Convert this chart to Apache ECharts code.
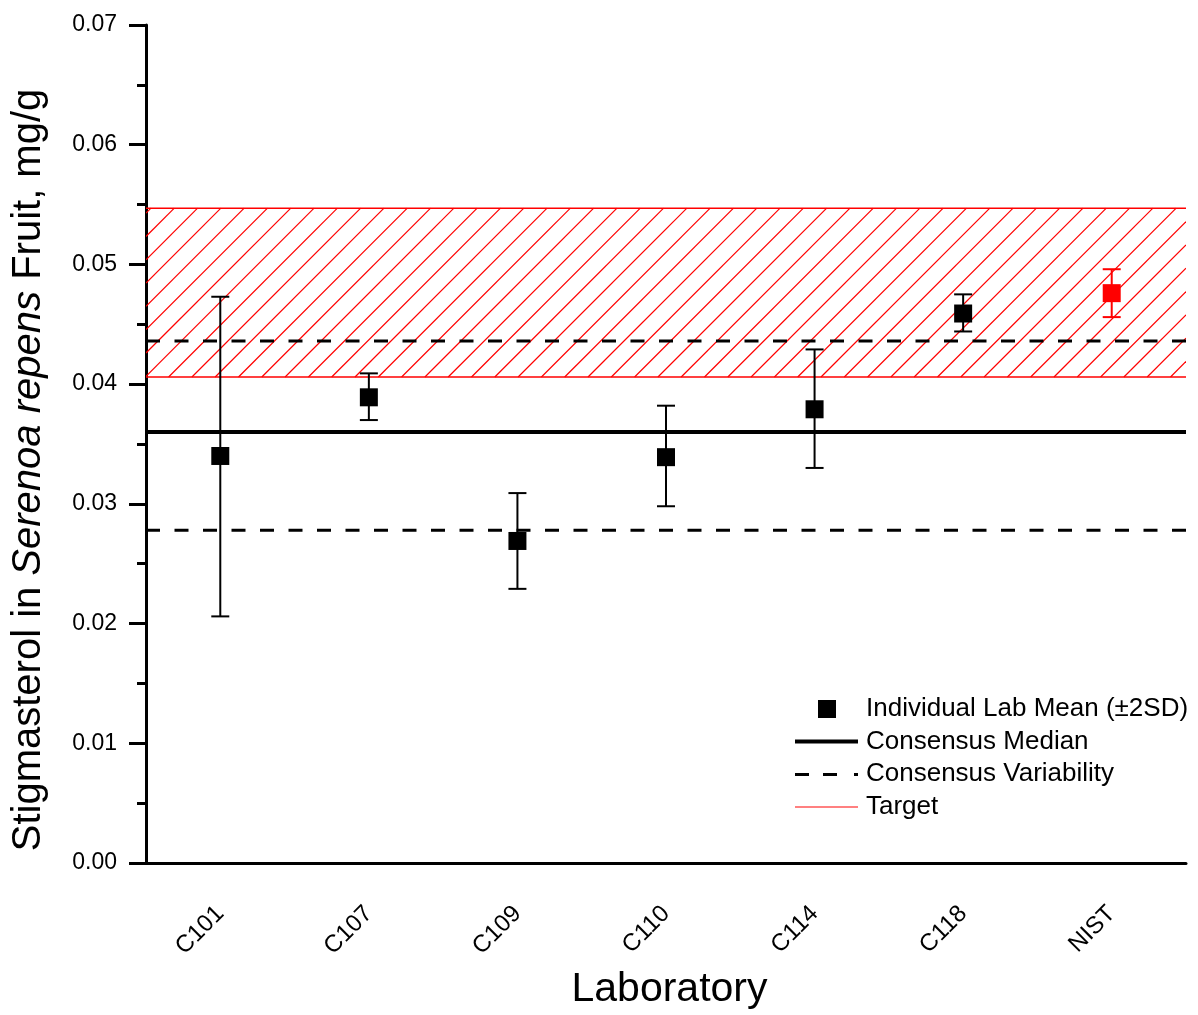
<!DOCTYPE html>
<html><head><meta charset="utf-8">
<script src="https://cdn.jsdelivr.net/npm/echarts@6/dist/echarts.min.js"></script>
<style>html,body{margin:0;padding:0;background:#fff}#c{width:1198px;height:1015px}</style>
</head><body><div id="c"></div>
<script>
// ---- data ----
const labs = ['C101', 'C107', 'C109', 'C110', 'C114', 'C118', 'NIST'];
const labMeans = [0.0340, 0.0389, 0.0269, 0.0339, 0.0379, 0.0459, 0.0476];
const upperBars = [0.0473, 0.0409, 0.0309, 0.0382, 0.0429, 0.0475, 0.0496];
const lowerBars = [0.0206, 0.0370, 0.0229, 0.0298, 0.0330, 0.0444, 0.0456];
const consensusMedian = 0.0360;
const consensusVariability = [0.0278, 0.0436];
const targetRange = [0.0406, 0.0547];
const yMin = 0, yMax = 0.07, yStep = 0.01;
const referenceLab = 'NIST';

const FONT = '"Liberation Sans", Arial, sans-serif';
const names = {
  lab: 'Individual Lab Mean (±2SD)',
  median: 'Consensus Median',
  variab: 'Consensus Variability',
  target: 'Target'
};

// ---- legend icons (63x18 canvases) ----
function makeIcon(draw) {
  const c = document.createElement('canvas');
  c.width = 63; c.height = 18;
  draw(c.getContext('2d'));
  return 'image://' + c.toDataURL();
}
const iconSquare = makeIcon(g => { g.fillStyle = '#000'; g.fillRect(23, 0, 18, 18); });
const iconSolid = makeIcon(g => { g.fillStyle = '#000'; g.fillRect(0, 7, 63, 4); });
const iconDash = makeIcon(g => {
  g.fillStyle = '#000';
  g.fillRect(0, 8, 14, 3); g.fillRect(28, 8, 14, 3); g.fillRect(59, 8, 4, 3);
});
const iconTarget = makeIcon(g => { g.fillStyle = '#ff0000'; g.fillRect(0, 9, 63, 1); });

const colorFor = (lab) => lab === referenceLab ? '#ff0000' : '#000000';

const chart = echarts.init(document.getElementById('c'), null, { renderer: 'canvas' });
chart.setOption({
  animation: false,
  backgroundColor: '#ffffff',
  textStyle: { fontFamily: FONT },
  grid: { left: 146, right: 12, top: 25, bottom: 152, containLabel: false, outerBoundsMode: 'none' },
  legend: {
    orient: 'vertical',
    left: 795, top: 696, padding: 0,
    itemWidth: 63, itemHeight: 18, itemGap: 6.5,
    selectedMode: false,
    textStyle: { fontFamily: FONT, fontSize: 26, color: '#000', lineHeight: 26, padding: [0, 0, 0, 3] },
    data: [
      { name: names.lab, icon: iconSquare },
      { name: names.median, icon: iconSolid },
      { name: names.variab, icon: iconDash },
      { name: names.target, icon: iconTarget }
    ]
  },
  xAxis: [{
    type: 'category',
    data: labs,
    boundaryGap: true,
    name: 'Laboratory',
    nameLocation: 'middle',
    nameGap: 106,
    nameTextStyle: { fontFamily: FONT, fontSize: 41, color: '#000', padding: [0, 0, 0, 7] },
    axisLine: { lineStyle: { color: '#000', width: 3 } },
    axisTick: { alignWithLabel: true, length: 17, lineStyle: { color: '#000', width: 3 } },
    axisLabel: { rotate: 45, margin: 47, fontFamily: FONT, fontSize: 24, color: '#000' },
    splitLine: { show: false }
  }, {
    type: 'value', min: 0, max: 1, show: false
  }],
  yAxis: {
    type: 'value',
    min: yMin, max: yMax, interval: yStep,
    name: '{n|Stigmasterol in }{i|Serenoa repens}{n| Fruit, mg/g}',
    nameLocation: 'middle',
    nameGap: 97,
    nameTextStyle: {
      padding: [0, 52, 0, 0],
      rich: {
        n: { fontFamily: FONT, fontSize: 40, color: '#000' },
        i: { fontFamily: FONT, fontSize: 40, color: '#000', fontStyle: 'italic' }
      }
    },
    axisLine: { show: true, lineStyle: { color: '#000', width: 3 } },
    axisTick: { show: true, length: 17, lineStyle: { color: '#000', width: 3 } },
    minorTick: { show: true, splitNumber: 2, length: 9, lineStyle: { color: '#000', width: 3 } },
    axisLabel: { margin: 29, fontFamily: FONT, fontSize: 23, color: '#000', formatter: v => v.toFixed(2) },
    splitLine: { show: false }
  },
  series: [
    {
      // hatched target band
      name: 'targetBand', type: 'custom', z: 1, silent: true, clip: true,
      data: [[targetRange[0], targetRange[1]]],
      renderItem: function (params, api) {
        const cs = params.coordSys;
        const x0 = cs.x, x1 = cs.x + cs.width;
        const yb = api.coord([0, api.value(0)])[1];
        const yt = api.coord([0, api.value(1)])[1];
        const step = 23.3;
        const children = [];
        for (let k = x0 + yt + 5; k < x1 + yb; k += step) {
          const xa = Math.max(x0, k - yb), xb = Math.min(x1, k - yt);
          if (xb - xa < 0.5) continue;
          children.push({
            type: 'line',
            shape: { x1: xa, y1: k - xa, x2: xb, y2: k - xb },
            style: { stroke: '#ff0000', lineWidth: 1.2 }
          });
        }
        return { type: 'group', children: children };
      }
    },
    {
      name: names.target, type: 'line', xAxisIndex: 1, z: 2,
      symbol: 'none', silent: true,
      lineStyle: { color: '#ff0000', width: 1.5 },
      itemStyle: { color: '#ff0000' },
      data: [[0, targetRange[1]], [1, targetRange[1]]]
    },
    {
      name: names.target, type: 'line', xAxisIndex: 1, z: 2,
      symbol: 'none', silent: true,
      lineStyle: { color: '#ff0000', width: 1.5 },
      itemStyle: { color: '#ff0000' },
      data: [[0, targetRange[0]], [1, targetRange[0]]]
    },
    {
      name: names.median, type: 'line', xAxisIndex: 1, z: 3,
      symbol: 'none', silent: true,
      lineStyle: { color: '#000', width: 4 },
      itemStyle: { color: '#000' },
      data: [[0, consensusMedian], [1, consensusMedian]]
    },
    {
      name: names.variab, type: 'line', xAxisIndex: 1, z: 3,
      symbol: 'none', silent: true,
      lineStyle: { color: '#000', width: 3, type: [14, 14.5] },
      itemStyle: { color: '#000' },
      data: [[0, consensusVariability[1]], [1, consensusVariability[1]]]
    },
    {
      name: names.variab, type: 'line', xAxisIndex: 1, z: 3,
      symbol: 'none', silent: true,
      lineStyle: { color: '#000', width: 3, type: [14, 14.5] },
      itemStyle: { color: '#000' },
      data: [[0, consensusVariability[0]], [1, consensusVariability[0]]]
    },
    {
      name: 'errorbars', type: 'custom', z: 4, silent: true,
      data: labs.map((l, i) => [i, lowerBars[i], upperBars[i]]),
      renderItem: function (params, api) {
        const i = api.value(0);
        const lo = api.coord([i, api.value(1)]);
        const hi = api.coord([i, api.value(2)]);
        const c = colorFor(labs[i]);
        const hw = 9;
        const st = { stroke: c, lineWidth: 2 };
        return {
          type: 'group',
          children: [
            { type: 'line', shape: { x1: lo[0], y1: lo[1], x2: hi[0], y2: hi[1] }, style: st },
            { type: 'line', shape: { x1: hi[0] - hw, y1: hi[1], x2: hi[0] + hw, y2: hi[1] }, style: st },
            { type: 'line', shape: { x1: lo[0] - hw, y1: lo[1], x2: lo[0] + hw, y2: lo[1] }, style: st }
          ]
        };
      }
    },
    {
      name: names.lab, type: 'scatter', z: 5,
      symbol: 'rect', symbolSize: 18,
      itemStyle: { color: '#000', opacity: 1 },
      data: labs.map((l, i) => ({ value: labMeans[i], itemStyle: { color: colorFor(l) } }))
    }
  ]
});
</script>
</body></html>
